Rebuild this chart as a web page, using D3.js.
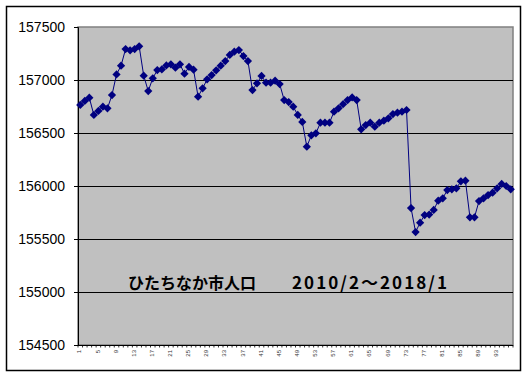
<!DOCTYPE html>
<meta charset="utf-8">
<html>
<head>
<style>
  body { margin: 0; background: #fff; }
  svg { display: block; }
  .ylab { font-family: "Liberation Sans", Arial, sans-serif; font-size: 14px; fill: #000; }
  .xlab { font-family: "Liberation Sans", Arial, sans-serif; font-size: 6px; fill: #333; }
  .title { font-family: "Noto Sans CJK JP", sans-serif; font-size: 16px; font-weight: bold; fill: #000; }
</style>
</head>
<body>
<svg width="529" height="378"></svg>
<script src="https://d3js.org/d3.v7.min.js"></script>
<script>

// monthly population, 2010/2 .. 2018/1 (96 months)
var months = d3.range(1, 97);
var population = [
  156765, 156802, 156833, 156670, 156708, 156748, 156733, 156858, 157053, 157135,
  157292, 157280, 157292, 157318, 157041, 156896, 157016, 157094, 157100, 157137,
  157148, 157116, 157148, 157060, 157123, 157097, 156843, 156921, 157006, 157047,
  157091, 157135, 157179, 157236, 157267, 157283, 157226, 157179, 156905, 156969,
  157038, 156975, 156975, 156994, 156962, 156811, 156792, 156748, 156670, 156604,
  156371, 156478, 156497, 156597, 156597, 156597, 156701, 156733, 156772, 156811,
  156836, 156811, 156535, 156575, 156597, 156560, 156597, 156616, 156639, 156679,
  156692, 156701, 156717, 155792, 155566, 155654, 155726, 155730, 155774, 155862,
  155884, 155962, 155969, 155978, 156044, 156050, 155705, 155705, 155858, 155884,
  155915, 155937, 155978, 156019, 156000, 155969
];
var yTicks = [154500, 155000, 155500, 156000, 156500, 157000, 157500];
var xTicks = d3.range(1, 97, 4);
var titleName = "ひたちなか市人口";
var titlePeriod = "2010/2～2018/1";

var svg = d3.select("svg");
var plot = {left: 78, right: 513, top: 27, bottom: 345};

var x = d3.scaleBand().domain(months).range([plot.left, plot.right]);
var y = d3.scaleLinear().domain([154500, 157500]).range([plot.bottom, plot.top]);
var cx = function(d) { return x(d) + x.bandwidth() / 2; };

// outer frame
svg.append("rect")
    .attr("x", 6.5).attr("y", 6.5)
    .attr("width", 514).attr("height", 364)
    .attr("fill", "#fff").attr("stroke", "#000").attr("stroke-width", 1.5);

// plot background
svg.append("rect")
    .attr("x", plot.left).attr("y", plot.top)
    .attr("width", plot.right - plot.left).attr("height", plot.bottom - plot.top)
    .attr("fill", "#c0c0c0")
    .attr("stroke", "#808080").attr("stroke-width", 1.5);

// gridlines
svg.append("g").selectAll("line")
    .data(yTicks.slice(1, -1))
    .join("line")
    .attr("x1", plot.left).attr("x2", plot.right)
    .attr("y1", function(d) { return Math.round(y(d)) + 0.5; })
    .attr("y2", function(d) { return Math.round(y(d)) + 0.5; })
    .attr("stroke", "#000").attr("stroke-width", 1);

// y axis
var yAxis = svg.append("g")
    .attr("transform", "translate(" + plot.left + ",0)")
    .call(d3.axisLeft(y).tickValues(yTicks).tickSize(4).tickPadding(9).tickFormat(d3.format("d")));
yAxis.select(".domain").attr("stroke", "#000");
yAxis.selectAll("text").attr("class", "ylab").attr("font-size", null).attr("font-family", null).attr("fill", null);

// x axis: small ticks at each category, sparse rotated labels
var xAxis = svg.append("g")
    .attr("transform", "translate(0," + plot.bottom + ")");
xAxis.append("line")
    .attr("x1", plot.left).attr("x2", plot.right)
    .attr("y1", 0.5).attr("y2", 0.5)
    .attr("stroke", "#000");
xAxis.selectAll(".tk")
    .data(months.concat([97]))
    .join("line")
    .attr("class", "tk")
    .attr("x1", function(d) { return d === 97 ? plot.right : x(d); })
    .attr("x2", function(d) { return d === 97 ? plot.right : x(d); })
    .attr("y1", 0).attr("y2", 2.5)
    .attr("stroke", "#000").attr("stroke-width", 0.8);
xAxis.selectAll(".xlab")
    .data(xTicks)
    .join("text")
    .attr("class", "xlab")
    .attr("text-anchor", "end")
    .attr("transform", function(d) { return "translate(" + (cx(d) - 1) + ",5) rotate(-90)"; })
    .attr("dy", "0.35em")
    .text(function(d) { return d; });

// series line
var line = d3.line()
    .x(function(d, i) { return cx(months[i]); })
    .y(function(d) { return y(d); });

svg.append("path")
    .datum(population)
    .attr("d", line)
    .attr("fill", "none")
    .attr("stroke", "#000080")
    .attr("stroke-width", 1);

// diamond markers
svg.append("g").selectAll("path")
    .data(population)
    .join("path")
    .attr("d", d3.symbol(d3.symbolSquare, 34))
    .attr("transform", function(d, i) { return "translate(" + cx(months[i]) + "," + y(d) + ") rotate(45)"; })
    .attr("fill", "#000080");

// title inside the plot
var title = svg.append("text")
    .attr("class", "title")
    .attr("y", 289);
title.append("tspan").attr("x", 128).text(titleName);
title.append("tspan").attr("x", 292)
    .attr("font-size", "17px")
    .attr("textLength", 155)
    .attr("lengthAdjust", "spacing")
    .text(titlePeriod);

</script>
</body>
</html>
